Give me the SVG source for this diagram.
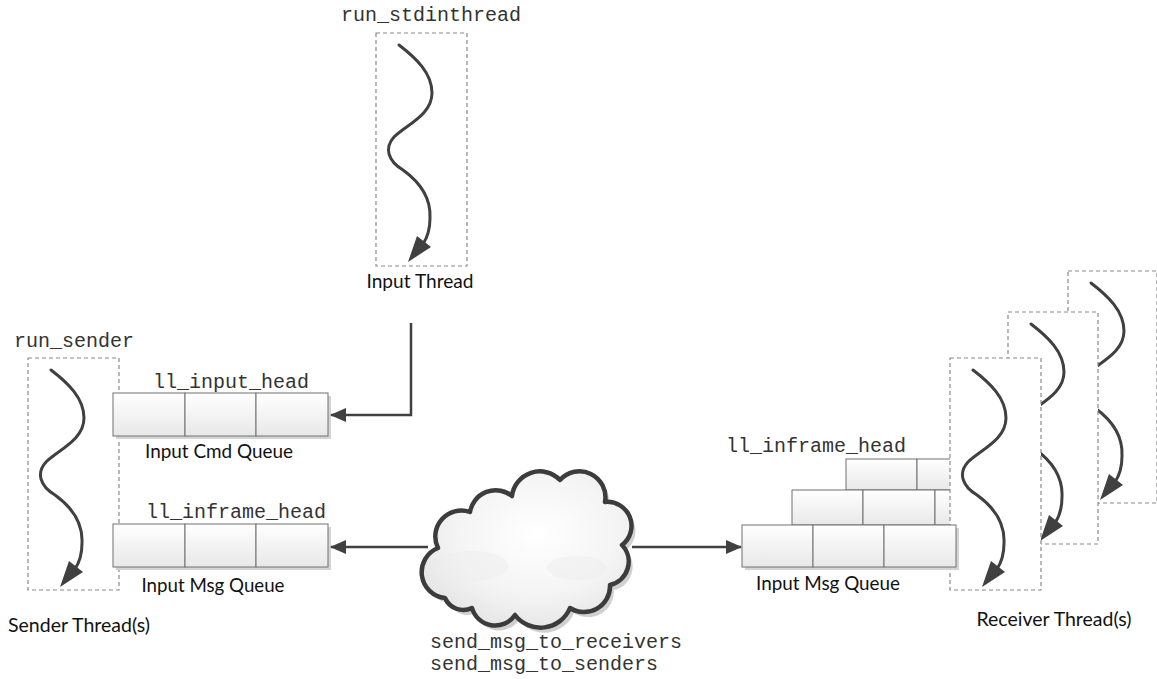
<svg xmlns="http://www.w3.org/2000/svg" xmlns:xlink="http://www.w3.org/1999/xlink" width="1157" height="679" viewBox="0 0 1157 679">
<style>
.mono{font-family:"Liberation Mono","Courier New",monospace;font-size:20px;fill:#333}
.sans{font-family:Lato,"Open Sans","Liberation Sans",sans-serif;font-size:19px;fill:#111}
.tbox{fill:#fff;stroke:#8a8a8a;stroke-width:1.2;stroke-dasharray:4 3}
.wave{fill:none;stroke:#404040;stroke-width:3;stroke-linecap:round}
.head{fill:#404040}
.cell{fill:url(#qg);stroke:#707070;stroke-width:1}
.shadow{fill:#d4d4d4}
.conn{fill:none;stroke:#404040;stroke-width:2.5}
</style>
<defs>
<linearGradient id="qg" x1="0" y1="0" x2="0" y2="1">
<stop offset="0" stop-color="#ffffff"/>
<stop offset="1" stop-color="#e8e8e8"/>
</linearGradient>
<radialGradient id="cg" cx="0.55" cy="0.4" r="0.65">
<stop offset="0" stop-color="#ffffff"/>
<stop offset="0.6" stop-color="#f4f4f4"/>
<stop offset="1" stop-color="#e4e4e4"/>
</radialGradient>
<marker id="arr" markerUnits="userSpaceOnUse" markerWidth="16" markerHeight="14" refX="15" refY="7" orient="auto">
<path d="M0,0 L16,7 L0,14 z" fill="#404040"/>
</marker>
<g id="wv">
<path class="wave" d="M23,12 C40,25 56,40 56,60 C56,82 30,92 18,104 C8,115 12,128 27,137 C45,150 55,165 54,185 C54,198 51,205 47,211"/>
<path class="head" d="M41,203 L55,214 L32,229 z"/>
</g>
<g id="q3">
<rect class="shadow" x="3" y="3" width="215" height="43"/>
<rect class="cell" x="0" y="0" width="72" height="43"/>
<rect class="cell" x="72" y="0" width="71" height="43"/>
<rect class="cell" x="143" y="0" width="72" height="43"/>
</g>
</defs>

<g id="input-thread">
<text class="mono" x="431" y="21" text-anchor="middle">run_stdinthread</text>
<rect class="tbox" x="376" y="33" width="91" height="233"/>
<use xlink:href="#wv" x="376" y="33"/>
<text class="sans" x="420" y="288" text-anchor="middle" textLength="107" lengthAdjust="spacingAndGlyphs">Input Thread</text>
</g>

<g id="sender-thread">
<text class="mono" x="74" y="347" text-anchor="middle">run_sender</text>
<rect class="tbox" x="28" y="358" width="91" height="232"/>
<use xlink:href="#wv" x="28" y="358"/>
<text class="sans" x="79" y="632" text-anchor="middle" textLength="142" lengthAdjust="spacingAndGlyphs">Sender Thread(s)</text>
</g>

<g id="input-cmd-queue">
<text class="mono" x="231" y="388" text-anchor="middle">ll_input_head</text>
<use xlink:href="#q3" x="113" y="393"/>
<text class="sans" x="219" y="458" text-anchor="middle" textLength="148" lengthAdjust="spacingAndGlyphs">Input Cmd Queue</text>
</g>

<g id="sender-msg-queue">
<text class="mono" x="236" y="518" text-anchor="middle">ll_inframe_head</text>
<use xlink:href="#q3" x="113" y="524"/>
<text class="sans" x="213" y="592" text-anchor="middle" textLength="143" lengthAdjust="spacingAndGlyphs">Input Msg Queue</text>
</g>

<g id="cloud">
<path transform="translate(4,5)" fill="#c4c4c4" opacity="0.8" d="M445,598 A26,26 0 0 1 438,548 A26,26 0 0 1 470,512 A26,26 0 0 1 512,496 A28,28 0 0 1 560,480 A26,26 0 0 1 605,502 A24,24 0 0 1 622,545 A24,24 0 0 1 610,585 A26,26 0 0 1 570,608 A32,32 0 0 1 515,615 A24,24 0 0 1 472,608 A20,20 0 0 1 445,598 Z"/>
<path fill="url(#cg)" stroke="#3c3c3c" stroke-width="4.5" stroke-linejoin="round" d="M445,598 A26,26 0 0 1 438,548 A26,26 0 0 1 470,512 A26,26 0 0 1 512,496 A28,28 0 0 1 560,480 A26,26 0 0 1 605,502 A24,24 0 0 1 622,545 A24,24 0 0 1 610,585 A26,26 0 0 1 570,608 A32,32 0 0 1 515,615 A24,24 0 0 1 472,608 A20,20 0 0 1 445,598 Z"/>
<ellipse cx="472" cy="566" rx="36" ry="15" fill="#ededed" opacity="0.5"/>
<ellipse cx="577" cy="568" rx="30" ry="12" fill="#ededed" opacity="0.5"/>
<text class="mono" x="430" y="648">send_msg_to_receivers</text>
<text class="mono" x="430" y="670">send_msg_to_senders</text>
</g>

<g id="receiver-msg-queue">
<text class="mono" x="816" y="452" text-anchor="middle">ll_inframe_head</text>
<rect class="cell" x="846" y="459" width="71" height="31"/>
<rect class="cell" x="917" y="459" width="71" height="31"/>
<rect class="cell" x="792" y="490" width="71" height="35"/>
<rect class="cell" x="863" y="490" width="72" height="35"/>
<rect class="cell" x="935" y="490" width="71" height="35"/>
</g>

<g id="receiver-thread-3">
<rect class="tbox" x="1068" y="271" width="89" height="232"/>
<use xlink:href="#wv" x="1068" y="271"/>
</g>
<g id="receiver-thread-2">
<rect class="tbox" x="1008" y="312" width="90" height="232"/>
<use xlink:href="#wv" x="1008" y="312"/>
</g>
<g id="receiver-thread-1">
<rect class="tbox" x="950" y="358" width="91" height="232"/>
<use xlink:href="#wv" x="950" y="358"/>
<text class="sans" x="1054" y="626" text-anchor="middle" textLength="155" lengthAdjust="spacingAndGlyphs">Receiver Thread(s)</text>
</g>

<g id="receiver-front-queue">
<rect class="shadow" x="745" y="528" width="214" height="42"/>
<rect class="cell" x="742" y="525" width="71" height="42"/>
<rect class="cell" x="813" y="525" width="71" height="42"/>
<rect class="cell" x="884" y="525" width="72" height="42"/>
<text class="sans" x="828" y="590" text-anchor="middle" textLength="144" lengthAdjust="spacingAndGlyphs">Input Msg Queue</text>
</g>

<g id="connectors">
<path class="conn" d="M411,323 V415 H331" marker-end="url(#arr)"/>
<path class="conn" d="M428,547 H331" marker-end="url(#arr)"/>
<path class="conn" d="M632,547 H741" marker-end="url(#arr)"/>
</g>
</svg>
